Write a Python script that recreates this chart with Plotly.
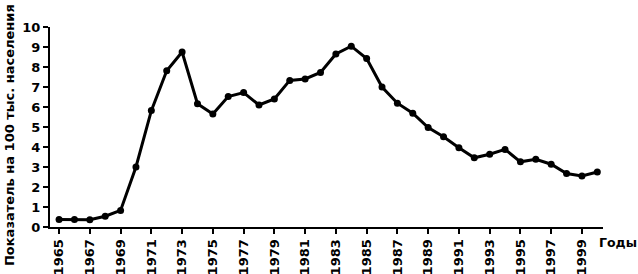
import plotly.graph_objects as go

years = list(range(1965, 2001))
values = [0.38, 0.38, 0.36, 0.54, 0.83, 3.0, 5.82, 7.81, 8.75, 6.16,
          5.65, 6.52, 6.72, 6.1, 6.4, 7.33, 7.4, 7.73, 8.65, 9.04,
          8.42, 7.0, 6.19, 5.69, 4.97, 4.51, 3.96, 3.46, 3.64, 3.88,
          3.26, 3.39, 3.14, 2.67, 2.55, 2.75]
x_ticks = list(range(1965, 2000, 2))
y_ticks = list(range(0, 11))
y_title = "Показатель на 100 тыс. населения"
x_title = "Годы"

fam = "DejaVu Sans, Arial, sans-serif"
font = dict(family=fam, color="black", size=13, weight="bold")

fig = go.Figure()
fig.add_trace(go.Scatter(
    x=years, y=values, mode="lines+markers",
    line=dict(color="black", width=3),
    marker=dict(color="black", size=7),
    showlegend=False,
))

fig.update_layout(
    width=638, height=274,
    margin=dict(l=50, r=35, t=27, b=47),
    paper_bgcolor="white", plot_bgcolor="white",
    font=font,
    xaxis=dict(
        range=[1964.41, 2000.37], tickvals=x_ticks, ticktext=[str(v) for v in x_ticks],
        tickangle=-90, ticks="outside", ticklen=5, tickwidth=2, tickcolor="black",
        showline=True, linewidth=2, linecolor="black", showgrid=False, zeroline=False,
        tickfont=font, automargin=False,
    ),
    yaxis=dict(
        range=[0, 10], tickvals=y_ticks, ticks="outside", ticklen=5, tickwidth=2,
        tickcolor="black", showline=True, linewidth=2, linecolor="black",
        showgrid=False, zeroline=False, tickfont=font, automargin=False,
    ),
    annotations=[
        dict(
            text=x_title, xref="paper", yref="paper", x=1.0, y=-0.075,
            xanchor="left", yanchor="middle", xshift=-6, showarrow=False,
            font=dict(family=fam, size=12.5, color="black", weight="bold"),
        ),
        dict(
            text=y_title, xref="paper", yref="paper", x=-0.0741, y=0.46,
            xanchor="center", yanchor="middle", textangle=-90, showarrow=False,
            font=dict(family=fam, size=13, color="black", weight="bold"),
        ),
    ],
)

fig.write_html("out.html")
